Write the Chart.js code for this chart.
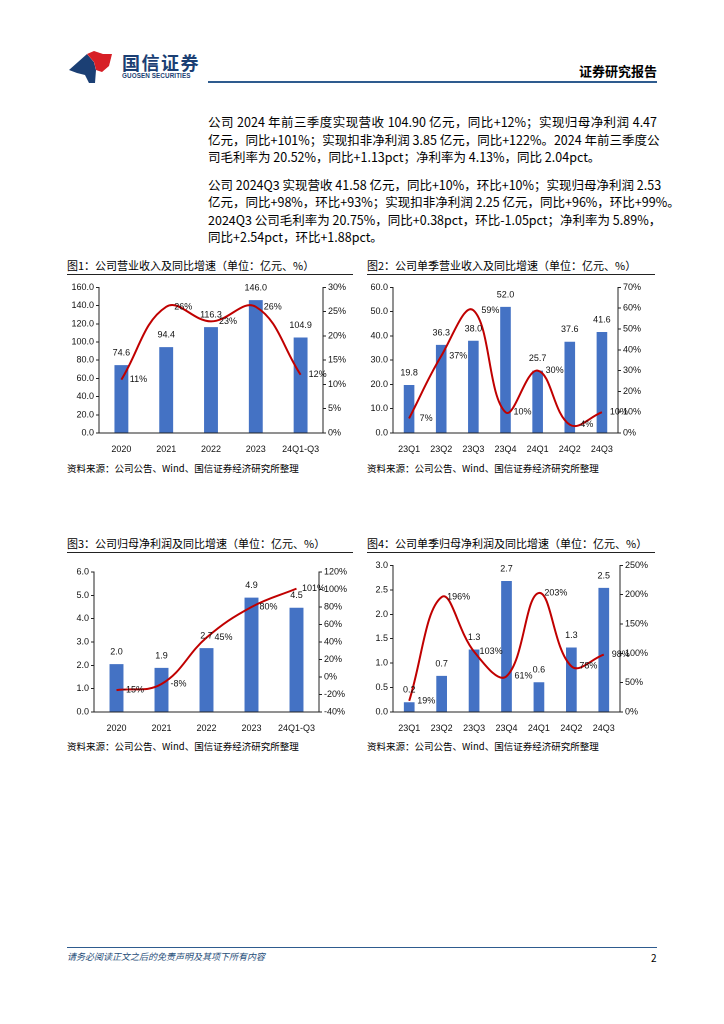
<!DOCTYPE html>
<html>
<head>
<meta charset="utf-8">
<script src="https://cdn.jsdelivr.net/npm/chart.js@4.4.1/dist/chart.umd.min.js"></script>
<style>
body { margin:0; width:724px; height:1024px; background:#fff; position:relative; font-family:"Noto Sans CJK SC", "Noto Sans", sans-serif; color:#000; overflow:hidden; }
.abs { position:absolute; }
.para div { height:17.5px; line-height:17.5px; font-size:12.5px; white-space:nowrap; }
.para div.j { text-align:justify; text-align-last:justify; }
.ctitle { font-size:11px; white-space:nowrap; }
.cline { height:0; border-top:1.3px solid #222; }
.src { font-size:9.5px; white-space:nowrap; }
canvas { position:absolute; }
</style>
</head>
<body>
<!-- header -->
<svg class="abs" style="left:68px;top:50px" width="46" height="34" viewBox="0 0 46 34">
  <polygon points="1,20 19,4 26,12 28,20 27,33 21,33 17,25 9,23" fill="#1b3f74"/>
  <polygon points="19,4 26,1 35,4 44,4 41,16 34,22 28,20 26,12" fill="#d71f26"/>
</svg>
<div class="abs" style="left:122px;top:49px;font-size:18px;font-weight:bold;color:#1b3f74;letter-spacing:1.5px">国信证券</div>
<div class="abs" style="left:122px;top:72px;font-size:6.3px;font-weight:bold;color:#1b3f74;letter-spacing:0.1px;font-family:'Liberation Sans',sans-serif">GUOSEN SECURITIES</div>
<div class="abs" style="left:579px;top:61px;font-size:13px;font-weight:bold">证券研究报告</div>
<div class="abs" style="left:208px;top:81px;width:449px;height:2px;background:#2e5b8e"></div>

<div class="abs para" style="left:208px;top:113px;width:449px">
  <div class="j">公司 2024 年前三季度实现营收 104.90 亿元，同比+12%；实现归母净利润 4.47</div>
  <div class="j">亿元，同比+101%；实现扣非净利润 3.85 亿元，同比+122%。2024 年前三季度公</div>
  <div>司毛利率为 20.52%，同比+1.13pct；净利率为 4.13%，同比 2.04pct。</div>
</div>
<div class="abs para" style="left:208px;top:175.5px;width:449px">
  <div class="j">公司 2024Q3 实现营收 41.58 亿元，同比+10%，环比+10%；实现归母净利润 2.53</div>
  <div class="j">亿元，同比+98%，环比+93%；实现扣非净利润 2.25 亿元，同比+96%，环比+99%。</div>
  <div class="j">2024Q3 公司毛利率为 20.75%，同比+0.38pct，环比-1.05pct；净利率为 5.89%，</div>
  <div>同比+2.54pct，环比+1.88pct。</div>
</div>

<!-- chart titles -->
<div class="abs ctitle" style="left:67px;top:257px">图1：公司营业收入及同比增速（单位：亿元、%）</div>
<div class="abs cline" style="left:67px;top:274px;width:286px"></div>
<div class="abs ctitle" style="left:367px;top:257px">图2：公司单季营业收入及同比增速（单位：亿元、%）</div>
<div class="abs cline" style="left:367px;top:274px;width:288px"></div>
<div class="abs src" style="left:67px;top:461px">资料来源：公司公告、Wind、国信证券经济研究所整理</div>
<div class="abs src" style="left:367px;top:461px">资料来源：公司公告、Wind、国信证券经济研究所整理</div>

<div class="abs ctitle" style="left:67px;top:535px">图3：公司归母净利润及同比增速（单位：亿元、%）</div>
<div class="abs cline" style="left:67px;top:552px;width:286px"></div>
<div class="abs ctitle" style="left:367px;top:535px">图4：公司单季归母净利润及同比增速（单位：亿元、%）</div>
<div class="abs cline" style="left:367px;top:552px;width:288px"></div>
<div class="abs src" style="left:67px;top:739px">资料来源：公司公告、Wind、国信证券经济研究所整理</div>
<div class="abs src" style="left:367px;top:739px">资料来源：公司公告、Wind、国信证券经济研究所整理</div>

<canvas id="chart1" style="left:62px;top:280px;width:290px;height:175px"></canvas>
<canvas id="chart2" style="left:362px;top:280px;width:295px;height:175px"></canvas>
<canvas id="chart3" style="left:62px;top:560px;width:290px;height:175px"></canvas>
<canvas id="chart4" style="left:362px;top:558px;width:295px;height:177px"></canvas>

<!-- footer -->
<div class="abs" style="left:67px;top:947px;width:590px;height:1px;background:#2e5b8e"></div>
<div class="abs" style="left:67px;top:950px;font-size:9px;font-style:italic;color:#1f4e79">请务必阅读正文之后的免责声明及其项下所有内容</div>
<div class="abs" style="left:651px;top:950px;font-size:10px">2</div>

<script>
const yearLabels = ['2020', '2021', '2022', '2023', '24Q1-Q3'];
const quarterLabels = ['23Q1', '23Q2', '23Q3', '23Q4', '24Q1', '24Q2', '24Q3'];

const revenue = [74.6, 94.4, 116.3, 146.0, 104.9];
const revenueYoy = [11, 26, 23, 26, 12];

const qRevenue = [19.8, 36.3, 38.0, 52.0, 25.7, 37.6, 41.6];
const qRevenueYoy = [7, 37, 59, 10, 30, 4, 10];

const profit = [2.05, 1.89, 2.74, 4.90, 4.47];
const profitYoy = [-15, -8, 45, 80, 101];

const qProfit = [0.20, 0.74, 1.28, 2.68, 0.61, 1.32, 2.54];
const qProfitYoy = [19, 196, 103, 61, 203, 78, 98];

const BAR = '#4472c4';
const LINE = '#c00000';
const tickFont = {family: "'Liberation Sans', sans-serif", size: 9};

// labels above bars and right of line points
const valueLabels = {
	id: 'valueLabels',
	afterDatasetsDraw(chart) {
		const ctx = chart.ctx;
		ctx.save();
		ctx.font = "9px 'Liberation Sans', sans-serif";
		ctx.fillStyle = '#111';
		ctx.textBaseline = 'middle';
		ctx.textAlign = 'center';
		chart.data.datasets.forEach(function(ds, i) {
			const meta = chart.getDatasetMeta(i);
			meta.data.forEach(function(el, j) {
				const v = ds.data[j];
				if (ds.type === 'bar') {
					ctx.fillText(v.toFixed(1), el.x, el.y - 12);
				} else {
					ctx.fillText(v + '%', el.x + 17, el.y);
				}
			});
		});
		ctx.restore();
	}
};

function makeChart(id, labels, bars, line, o) {
	return new Chart(document.getElementById(id).getContext('2d'), {
		data: {
			labels: labels,
			datasets: [
				{type: 'line', data: line, yAxisID: 'y1', borderColor: LINE, borderWidth: 2,
					pointRadius: 0, tension: 0.4, fill: false},
				{type: 'bar', data: bars, yAxisID: 'y', backgroundColor: BAR,
					barPercentage: o.barPct, categoryPercentage: 1}
			]
		},
		options: {
			responsive: false,
			animation: false,
			devicePixelRatio: 2,
			layout: {padding: {top: o.top, left: 0, right: 0, bottom: 0}},
			plugins: {legend: {display: false}, tooltip: {enabled: false}},
			scales: {
				x: {
					grid: {display: false},
					border: {color: '#222'},
					ticks: {font: tickFont, color: '#111', padding: 3, maxRotation: 0},
					afterFit: function(s) { s.height = o.bottom; }
				},
				y: {
					position: 'left', min: o.yMin, max: o.yMax,
					ticks: {stepSize: o.yStep, font: tickFont, color: '#111', padding: 2,
						callback: function(v) { return v.toFixed(1); }},
					grid: {drawOnChartArea: false, drawTicks: true, tickLength: 3, color: '#222'},
					border: {color: '#222'},
					afterFit: function(s) { s.width = o.leftW; }
				},
				y1: {
					position: 'right', min: o.rMin, max: o.rMax,
					ticks: {stepSize: o.rStep, font: tickFont, color: '#111', padding: 2,
						callback: function(v) { return v + '%'; }},
					grid: {drawOnChartArea: false, drawTicks: true, tickLength: 3, color: '#222'},
					border: {color: '#222'},
					afterFit: function(s) { s.width = o.rightW; }
				}
			}
		},
		plugins: [valueLabels]
	});
}

function setSize(id, w, h) {
	const c = document.getElementById(id);
	c.width = w; c.height = h;
}
setSize('chart1', 290, 175);
setSize('chart2', 295, 175);
setSize('chart3', 290, 175);
setSize('chart4', 295, 177);

makeChart('chart1', yearLabels, revenue, revenueYoy,
	{barPct: 0.31, top: 7, bottom: 22, leftW: 37, rightW: 29, yMin: 0, yMax: 160, yStep: 20, rMin: 0, rMax: 30, rStep: 5});
makeChart('chart2', quarterLabels, qRevenue, qRevenueYoy,
	{barPct: 0.33, top: 7, bottom: 22, leftW: 31, rightW: 39, yMin: 0, yMax: 60, yStep: 10, rMin: 0, rMax: 70, rStep: 10});
makeChart('chart3', yearLabels, profit, profitYoy,
	{barPct: 0.31, top: 12, bottom: 23, leftW: 32, rightW: 33, yMin: 0, yMax: 6, yStep: 1, rMin: -40, rMax: 120, rStep: 20});
makeChart('chart4', quarterLabels, qProfit, qProfitYoy,
	{barPct: 0.33, top: 7, bottom: 23, leftW: 31, rightW: 37, yMin: 0, yMax: 3, yStep: 0.5, rMin: 0, rMax: 250, rStep: 50});
</script>
</body>
</html>
